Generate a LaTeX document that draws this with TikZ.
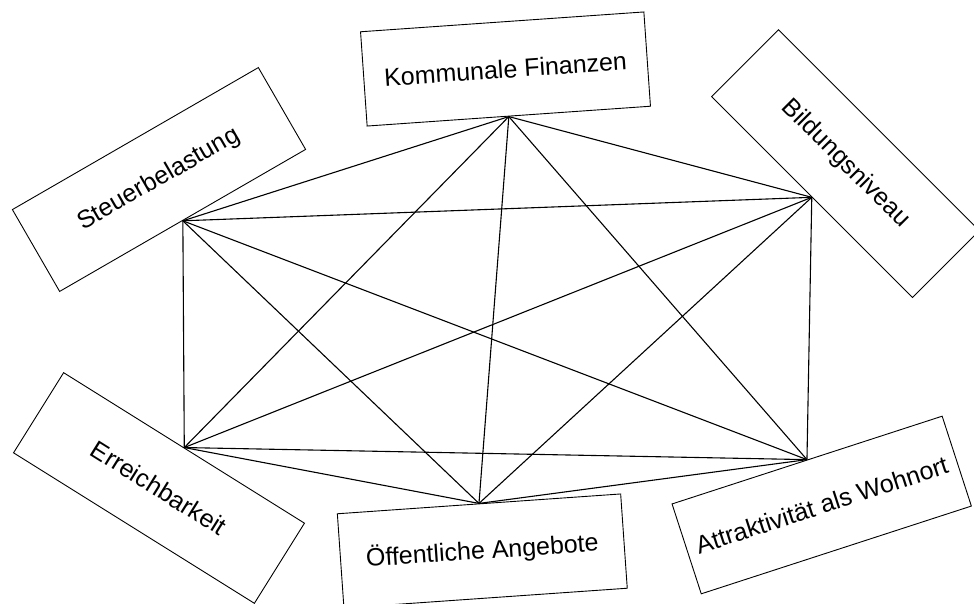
\documentclass[tikz,border=0pt]{standalone}
\usepackage{fontspec}
\setmainfont{Liberation Sans}
\tikzset{
  factor/.style={draw, line width=0.9pt, minimum width=284pt, minimum height=94.5pt,
    inner sep=0pt, font=\fontsize{25}{29}\selectfont},
  link/.style={line width=1.1pt}
}
\begin{document}
\begin{tikzpicture}[x=1pt,y=-1pt]
%set bounding box
\useasboundingbox (0,0) rectangle (974,604);
\clip (0,0) rectangle (974,604);
%factor boxes
\node[factor, rotate=30] (steuer) at (159,179.5) {Steuerbelastung};
\node[factor, rotate=4] (finanzen) at (505.5,69) {Kommunale Finanzen};
\node[factor, rotate=-45] (bildung) at (845.5,163.6) {Bildungsniveau};
\node[factor, rotate=-32] (erreich) at (159,488) {Erreichbarkeit};
\node[factor, rotate=4] (angebote) at (482.3,551) {Öffentliche Angebote};
\node[factor, rotate=18] (wohnort) at (821.7,505) {Attraktivität als Wohnort};
%junction points
\coordinate (Js) at (steuer.south);
\coordinate (Jf) at (finanzen.south);
\coordinate (Jb) at (bildung.south);
\coordinate (Je) at (erreich.north);
\coordinate (Ja) at (angebote.north);
\coordinate (Jw) at (wohnort.north);
%every factor linked to every other
\foreach \a/\b in {s/f,s/b,s/e,s/a,s/w,f/b,f/e,f/a,f/w,b/e,b/a,b/w,e/a,e/w,a/w}
{
	\draw[link] (J\a) -- (J\b);
}
\end{tikzpicture}
\end{document}
